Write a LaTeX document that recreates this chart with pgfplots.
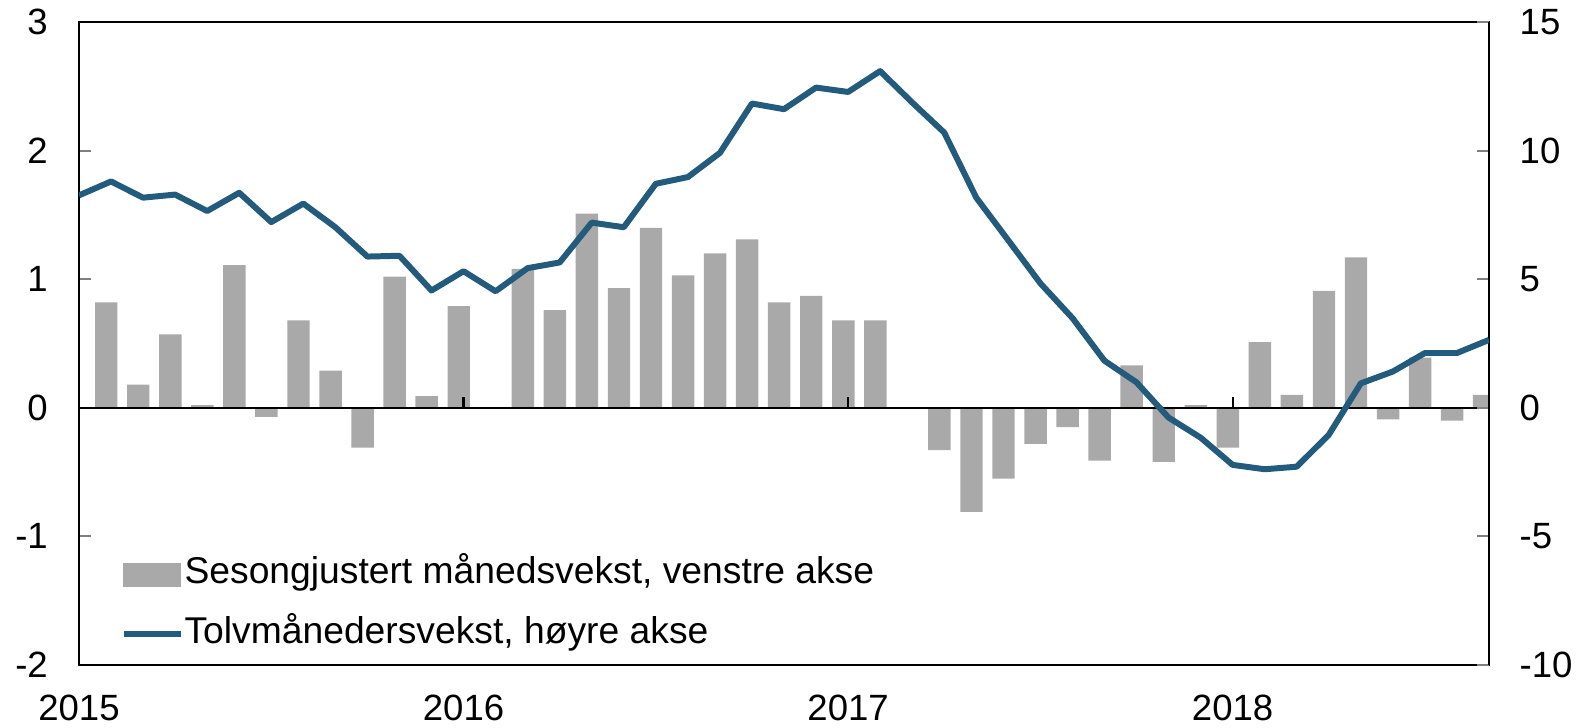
\documentclass[border=0pt]{standalone}
\usepackage{fontspec}
\setmainfont{Liberation Sans}
\usepackage{pgfplots}
\usepackage{pgfplotstable}
\pgfplotsset{compat=1.18}
\definecolor{barfill}{RGB}{169,169,169}
\definecolor{linjeblaa}{RGB}{35,91,124}

% sesongjustert maanedsvekst (venstre akse), jan 2015 - sep 2018
\pgfplotstableread{
x y
0.85 0.82
1.85 0.18
2.85 0.57
3.85 0.02
4.85 1.11
5.85 -0.07
6.85 0.68
7.85 0.29
8.85 -0.31
9.85 1.02
10.85 0.09
11.85 0.79
12.85 0.00
13.85 1.08
14.85 0.76
15.85 1.51
16.85 0.93
17.85 1.40
18.85 1.03
19.85 1.20
20.85 1.31
21.85 0.82
22.85 0.87
23.85 0.68
24.85 0.68
25.85 0.00
26.85 -0.33
27.85 -0.81
28.85 -0.55
29.85 -0.28
30.85 -0.15
31.85 -0.41
32.85 0.33
33.85 -0.42
34.85 0.02
35.85 -0.31
36.85 0.51
37.85 0.10
38.85 0.91
39.85 1.17
40.85 -0.09
41.85 0.39
42.85 -0.10
43.85 0.10
}\maanedsvekst

% tolvmaanedersvekst (hoyre akse)
\pgfplotstableread{
x y
0 8.26
1 8.80
2 8.17
3 8.29
4 7.65
5 8.36
6 7.22
7 7.94
8 7.02
9 5.88
10 5.91
11 4.56
12 5.31
13 4.53
14 5.43
15 5.65
16 7.20
17 7.02
18 8.71
19 8.97
20 9.91
21 11.83
22 11.61
23 12.45
24 12.28
25 13.09
26 11.87
27 10.70
28 8.17
29 6.51
30 4.84
31 3.49
32 1.83
33 0.99
34 -0.38
35 -1.16
36 -2.22
37 -2.39
38 -2.29
39 -1.05
40 0.95
41 1.41
42 2.13
43 2.13
44 2.64
}\tolvmnd

\newcommand{\tekst}{\fontsize{10.4}{12.5}\selectfont}
\newcommand{\legtekst}{\fontsize{10.6}{12.7}\selectfont}

\begin{document}
\begin{tikzpicture}[x=1cm,y=1cm]
\begin{axis}[
  name=venstre,
  scale only axis,
  width=14.10cm, height=6.43cm,
  xmin=0, xmax=44,
  ymin=-2, ymax=3,
  axis line style={line width=0.6pt},
  xtick={0,12,24,36},
  xticklabels={2015,2016,2017,2018},
  xtick style={draw=none},
  xticklabel style={font=\tekst, anchor=north, inner sep=0pt, yshift=-0.29cm},
  ytick={-2,-1,0,1,2,3},
  yticklabels={-2,-1,0,1,2,3},
  ytick pos=left,
  tick align=inside,
  major tick length=0.12cm,
  ytick style={line width=0.6pt},
  yticklabel style={font=\tekst, anchor=east, inner sep=0pt, xshift=-0.305cm},
]
\addplot[ybar, bar width=0.70, fill=barfill, draw=none] table {\maanedsvekst};
\draw[line width=0.6pt] (axis cs:0,0) -- (axis cs:44,0);
\draw[line width=0.6pt] (axis cs:12,0) -- ++(0pt,0.11cm);
\draw[line width=0.6pt] (axis cs:24,0) -- ++(0pt,0.11cm);
\draw[line width=0.6pt] (axis cs:36,0) -- ++(0pt,0.11cm);
\end{axis}

\begin{axis}[
  scale only axis,
  width=14.10cm, height=6.43cm,
  xmin=0, xmax=44,
  ymin=-10, ymax=15,
  axis x line=none,
  axis y line*=right,
  y axis line style={line width=0.6pt, -},
  ytick={-10,-5,0,5,10,15},
  yticklabels={-10,-5,0,5,10,15},
  tick align=inside,
  major tick length=0.12cm,
  ytick style={line width=0.6pt},
  yticklabel style={font=\tekst, anchor=west, inner sep=0pt, xshift=0.30cm},
  legend cell align=left,
  legend style={
    at={(0.029,0.094)}, anchor=west,
    draw=none, fill=none, inner sep=0pt,
    font=\legtekst,
    row sep=0.27cm, column sep=0.01cm,
    nodes={inner sep=0pt, text height=0.72em, text depth=0.21em},
  },
]
\addlegendimage{legend image code/.code={\fill[barfill] (0cm,-0.115cm) rectangle (0.57cm,0.115cm);}}
\addlegendentry{Sesongjustert månedsvekst, venstre akse}
\addplot[linjeblaa, line width=1.7pt, line join=round,
  legend image code/.code={\draw[linjeblaa, line width=1.7pt] (0cm,0cm) -- (0.57cm,0cm);}] table {\tolvmnd};
\addlegendentry{Tolvmånedersvekst, høyre akse}
\end{axis}

\pgfresetboundingbox
\path (-0.79,-0.63) rectangle (15.06,6.65);
\end{tikzpicture}
\end{document}
